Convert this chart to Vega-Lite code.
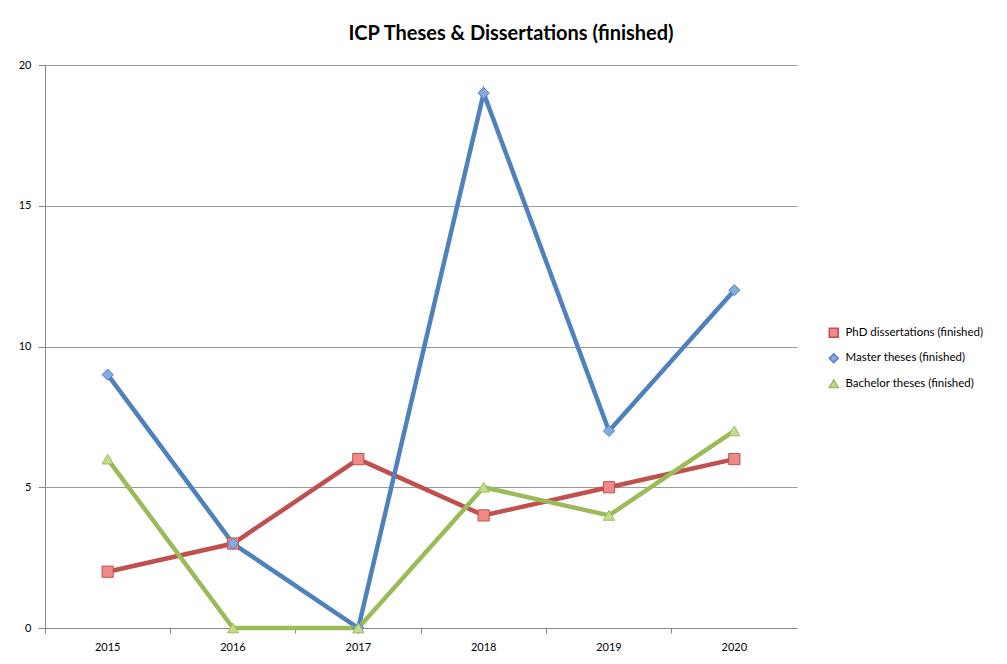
{
  "$schema": "https://vega.github.io/schema/vega-lite/v6.json",
  "width": 752,
  "height": 563,
  "autosize": "none",
  "padding": {"left": 45, "top": 65, "right": 210, "bottom": 36},
  "background": "white",
  "config": {"view": {"stroke": null}, "font": "Lato"},
  "title": {
    "text": "ICP Theses & Dissertations (finished)",
    "fontSize": 20,
    "fontWeight": "bold",
    "color": "#000000",
    "anchor": "middle",
    "frame": "group",
    "dx": 90,
    "baseline": "alphabetic",
    "offset": -1
  },
  "data": {
    "values": [
      {"year": "2015", "series": "PhD dissertations (finished)", "value": 2},
      {"year": "2016", "series": "PhD dissertations (finished)", "value": 3},
      {"year": "2017", "series": "PhD dissertations (finished)", "value": 6},
      {"year": "2018", "series": "PhD dissertations (finished)", "value": 4},
      {"year": "2019", "series": "PhD dissertations (finished)", "value": 5},
      {"year": "2020", "series": "PhD dissertations (finished)", "value": 6},
      {"year": "2015", "series": "Master theses (finished)", "value": 9},
      {"year": "2016", "series": "Master theses (finished)", "value": 3},
      {"year": "2017", "series": "Master theses (finished)", "value": 0},
      {"year": "2018", "series": "Master theses (finished)", "value": 19},
      {"year": "2019", "series": "Master theses (finished)", "value": 7},
      {"year": "2020", "series": "Master theses (finished)", "value": 12},
      {"year": "2015", "series": "Bachelor theses (finished)", "value": 6},
      {"year": "2016", "series": "Bachelor theses (finished)", "value": 0},
      {"year": "2017", "series": "Bachelor theses (finished)", "value": 0},
      {"year": "2018", "series": "Bachelor theses (finished)", "value": 5},
      {"year": "2019", "series": "Bachelor theses (finished)", "value": 4},
      {"year": "2020", "series": "Bachelor theses (finished)", "value": 7}
    ]
  },
  "encoding": {
    "x": {
      "field": "year",
      "type": "ordinal",
      "scale": {"type": "band", "paddingInner": 0, "paddingOuter": 0},
      "axis": {
        "title": null,
        "labelAngle": 0,
        "bandPosition": 0,
        "labelFontSize": 11,
        "labelColor": "#000000",
        "labelPadding": 8,
        "tickSize": 5,
        "tickColor": "#888888",
        "domainColor": "#888888",
        "grid": false
      }
    },
    "y": {
      "field": "value",
      "type": "quantitative",
      "scale": {"domain": [0, 20], "nice": false},
      "axis": {
        "title": null,
        "values": [0, 5, 10, 15, 20],
        "labelFontSize": 11,
        "labelColor": "#000000",
        "labelPadding": 7,
        "tickSize": 7,
        "tickColor": "#888888",
        "domainColor": "#888888",
        "grid": true,
        "gridColor": "#9a9a9a",
        "gridOpacity": 1
      }
    },
    "color": {
      "field": "series",
      "type": "nominal",
      "scale": {
        "domain": ["PhD dissertations (finished)", "Master theses (finished)", "Bachelor theses (finished)"],
        "range": ["#C0504D", "#4F81BD", "#9BBB59"]
      },
      "legend": {
        "title": null,
        "orient": "none",
        "legendX": 783,
        "legendY": 262,
        "labelFontSize": 11.5,
        "labelColor": "#000000",
        "symbolSize": 80,
        "rowPadding": 9.5,
        "labelOffset": 6
      }
    }
  },
  "layer": [
    {"mark": {"type": "line", "strokeWidth": 4.5}},
    {
      "mark": {"type": "point", "filled": true, "size": 125, "strokeWidth": 1, "opacity": 1},
      "encoding": {
        "shape": {
          "field": "series",
          "type": "nominal",
          "scale": {
            "domain": ["PhD dissertations (finished)", "Master theses (finished)", "Bachelor theses (finished)"],
            "range": ["square", "diamond", "triangle-up"]
          }
        },
        "fill": {
          "field": "series",
          "type": "nominal",
          "scale": {
            "domain": ["PhD dissertations (finished)", "Master theses (finished)", "Bachelor theses (finished)"],
            "range": ["#EE8A87", "#84AAE0", "#C5DC8E"]
          },
          "legend": null
        },
        "stroke": {
          "field": "series",
          "type": "nominal",
          "scale": {
            "domain": ["PhD dissertations (finished)", "Master theses (finished)", "Bachelor theses (finished)"],
            "range": ["#C0504D", "#4F81BD", "#9BBB59"]
          },
          "legend": null
        }
      }
    }
  ]
}
